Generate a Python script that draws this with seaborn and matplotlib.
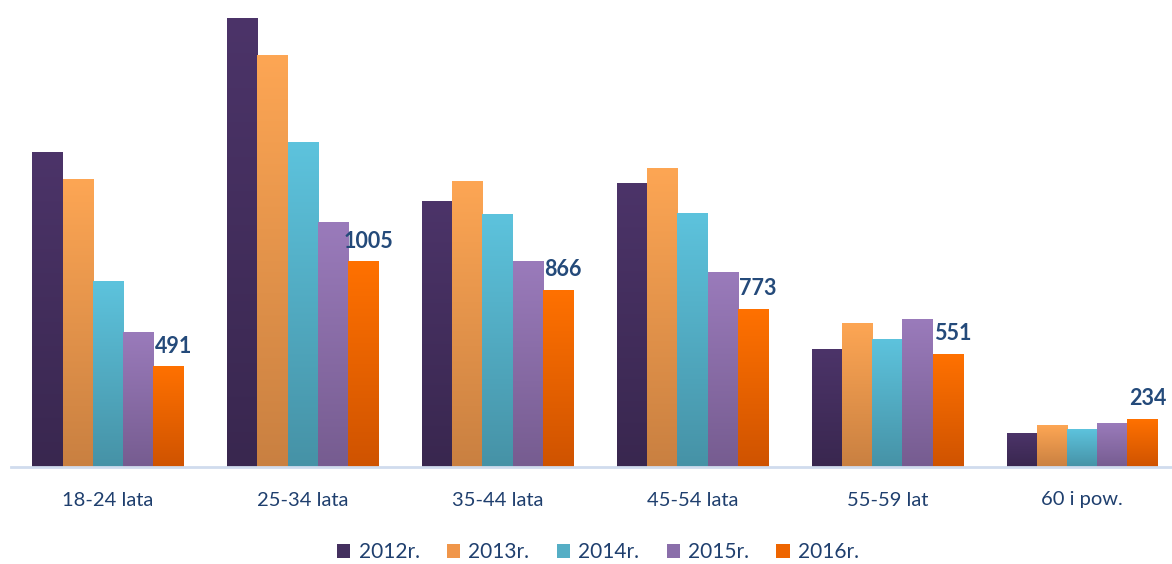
import numpy as np
import pandas as pd
import matplotlib
matplotlib.use("Agg")
import matplotlib.pyplot as plt
import seaborn as sns
from matplotlib.colors import LinearSegmentedColormap
from matplotlib.patches import Patch

categories = ["18-24 lata", "25-34 lata", "35-44 lata", "45-54 lata", "55-59 lat", "60 i pow."]
years = ["2012r.", "2013r.", "2014r.", "2015r.", "2016r."]
v2012 = [1539, 2200, 1299, 1387, 578, 162]
v2013 = [1411, 2014, 1397, 1465, 701, 201]
v2014 = [911, 1588, 1235, 1240, 627, 186]
v2015 = [661, 1200, 1005, 951, 725, 211]
v2016 = [491, 1005, 866, 773, 551, 234]

top_colors = ["#4c3469", "#fda654", "#5dc3dd", "#9a7bbb", "#ff7100"]
bot_colors = ["#39274f", "#c98041", "#4692a6", "#765c90", "#cf5300"]
legend_colors = ["#44305f", "#f0964a", "#55aec5", "#8a6eaa", "#ee6500"]

series = [v2012, v2013, v2014, v2015, v2016]
rows = []
for y, vals in zip(years, series):
    for c, v in zip(categories, vals):
        rows.append({"cat": c, "year": y, "value": v})
df = pd.DataFrame(rows)

sns.set_theme(style="white")
plt.rcParams['font.family'] = ['Lato', 'DejaVu Sans']

fig = plt.figure(figsize=(11.72, 5.64), dpi=100)
ax = fig.add_axes([10.5 / 1172, 1 - 466.5 / 564, 1 - 10.5 / 1172, 466.5 / 564])

sns.barplot(data=df, x="cat", y="value", hue="year", order=categories, hue_order=years,
            palette=legend_colors, width=0.775, dodge=True, ax=ax, legend=False,
            errorbar=None, saturation=1)

ymax = 466.5 * 4.9
for ci, cont in enumerate(ax.containers):
    cmap = LinearSegmentedColormap.from_list("g", [bot_colors[ci], top_colors[ci]])
    for bar in cont:
        x0, w, h = bar.get_x(), bar.get_width(), bar.get_height()
        grad = np.linspace(0, 1, 256).reshape(-1, 1)
        ax.imshow(grad, extent=[x0, x0 + w, 0, h], origin="lower", cmap=cmap,
                  aspect="auto", zorder=2, interpolation="bilinear")
        bar.set_alpha(0)

# data labels for last series
last = ax.containers[-1]
for bar, v in zip(last, v2016):
    ax.annotate(str(v), (bar.get_x() + bar.get_width() / 2 + 0.025, bar.get_height()),
                xytext=(0, 7), textcoords="offset points", ha="center", va="bottom",
                fontsize=15.5, fontweight="bold", color="#244a7a")

ax.set_xlim(-0.5, 5.5 - 7.5 / 195)
ax.set_ylim(0, ymax)
ax.set_xlabel("")
ax.set_ylabel("")
ax.set_yticks([])
for s in ["top", "right", "left"]:
    ax.spines[s].set_visible(False)
ax.spines["bottom"].set_color("#d0dcee")
ax.spines["bottom"].set_linewidth(2)
ax.spines["bottom"].set_zorder(3)
ax.tick_params(axis="x", length=0, pad=18, labelsize=14.5, labelcolor="#1f3f6e")

handles = [Patch(facecolor=c, edgecolor="none", label=y) for c, y in zip(legend_colors, years)]
fig.legend(handles=handles, loc="center", bbox_to_anchor=(598 / 1172, 1 - 552 / 564), ncol=5,
           frameon=False, fontsize=15, handlelength=0.65, handleheight=0.65,
           handletextpad=0.4, columnspacing=1.3, labelcolor="#1f3f6e")

fig.savefig("out.png", dpi=100)
